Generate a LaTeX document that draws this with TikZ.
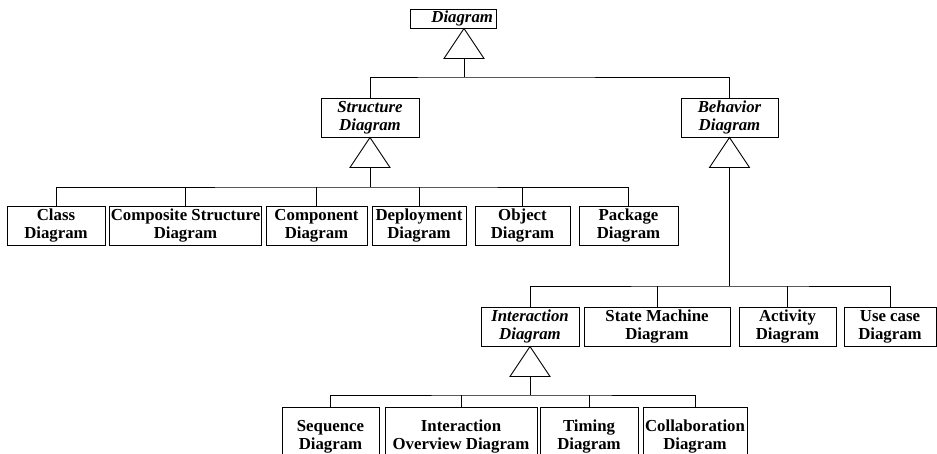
\documentclass[tikz,border=0pt]{standalone}
\usepackage{fontspec}
\setmainfont{Liberation Serif}
\usetikzlibrary{positioning,calc}

\tikzset{
  cls/.style={draw, line width=0.9pt, fill=white, align=center,
    font=\fontsize{16.8}{18}\selectfont\bfseries,
    inner xsep=1pt, inner ysep=0pt, minimum height=39pt},
  abstract/.style={cls, font=\fontsize{16.8}{18}\selectfont\bfseries\itshape},
  link/.style={line width=0.9pt},
  gen/.style={line width=0.9pt, fill=white},
}

\begin{document}
\begin{tikzpicture}[x=1pt,y=-1pt]
    \useasboundingbox (0,0) rectangle (937,453);
    \clip (0,0) rectangle (937,453);

    % Root
    \node [abstract, minimum width=86pt, minimum height=19pt, text width=80pt, align=right] (diagram) at (453,18.5) {Diagram};

    % Second level
    \node [abstract, minimum width=98pt] (structure) at (370,117.5) {Structure\\Diagram};
    \node [abstract, minimum width=97pt] (behavior) at (729.5,117.5) {Behavior\\Diagram};

    % Structure diagrams
    \node [cls, minimum width=98pt] (class) at (56,226) {Class\\Diagram};
    \node [cls, minimum width=149pt] (composite) at (185.5,226) {Composite Structure\\Diagram};
    \node [cls, minimum width=101pt] (component) at (316.5,226) {Component\\Diagram};
    \node [cls, minimum width=94pt] (deployment) at (419,226) {Deployment\\Diagram};
    \node [cls, minimum width=95pt] (object) at (522.5,226) {Object\\Diagram};
    \node [cls, minimum width=99pt] (package) at (628.5,226) {Package\\Diagram};

    % Behavior diagrams
    \node [abstract, minimum width=98pt] (interaction) at (530,326.5) {Interaction\\Diagram};
    \node [cls, minimum width=146pt] (statemachine) at (657,326.5) {State Machine\\Diagram};
    \node [cls, minimum width=97pt] (activity) at (787.5,326.5) {Activity\\Diagram};
    \node [cls, minimum width=92pt] (usecase) at (890,326.5) {Use case\\Diagram};

    % Interaction diagrams (cut at the bottom)
    \node [cls, minimum width=97pt, minimum height=60pt] (sequence) at (330.5,437) {Sequence\\Diagram};
    \node [cls, minimum width=152pt, minimum height=60pt] (overview) at (461,437) {Interaction\\Overview Diagram};
    \node [cls, minimum width=98pt, minimum height=60pt] (timing) at (589,437) {Timing\\Diagram};
    \node [cls, minimum width=104pt, minimum height=60pt] (collab) at (695,437) {Collaboration\\Diagram};

    % Bus points
    \coordinate (topbus) at (464,77);
    \coordinate (sbus) at (370,187);
    \coordinate (bbus) at (729.5,286);
    \coordinate (ibus) at (530,395);
    \coordinate (tdiag) at ($(diagram.south)+(11,0)$);

    % Generalization from the root
    \draw [link] ($(tdiag)+(0,30)$) -- (topbus);
    \draw [link] (structure.north) |- (topbus) -| (behavior.north);
    \draw [gen] (tdiag) -- ++(-20,30) -- ++(40,0) -- cycle;

    % Structure
    \draw [link] ($(structure.south)+(0,30)$) -- (sbus);
    \draw [link] (class.north) |- (sbus) -| (package.north);
    \foreach \n in {composite,component,deployment,object}
        \draw [link] (\n.north) -- (\n.north |- sbus);
    \draw [gen] (structure.south) -- ++(-20,30) -- ++(40,0) -- cycle;

    % Behavior
    \draw [link] ($(behavior.south)+(0,30)$) -- (bbus);
    \draw [link] (interaction.north) |- (bbus) -| (usecase.north);
    \foreach \n in {statemachine,activity}
        \draw [link] (\n.north) -- (\n.north |- bbus);
    \draw [gen] (behavior.south) -- ++(-20,30) -- ++(40,0) -- cycle;

    % Interaction
    \draw [link] ($(interaction.south)+(0,30)$) -- (ibus);
    \draw [link] (sequence.north) |- (ibus) -| (collab.north);
    \foreach \n in {overview,timing}
        \draw [link] (\n.north) -- (\n.north |- ibus);
    \draw [gen] (interaction.south) -- ++(-20,30) -- ++(40,0) -- cycle;
\end{tikzpicture}
\end{document}
